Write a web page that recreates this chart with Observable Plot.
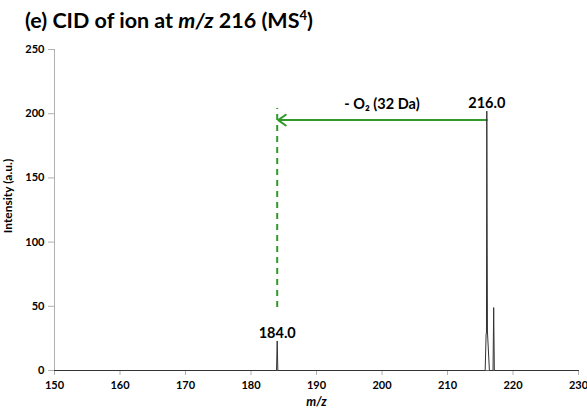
<!DOCTYPE html>
<html>
<head>
<meta charset="utf-8">
<script src="https://cdn.jsdelivr.net/npm/d3@7"></script>
<script src="https://cdn.jsdelivr.net/npm/@observablehq/plot@0.6"></script>
<style>
  body { margin: 0; background: #fff; font-family: Lato, "Open Sans", sans-serif; }
  #title { height: 36px; box-sizing: border-box; padding-left: 25px; padding-top: 9px; font-size: 21.5px; font-weight: bold; line-height: 22px; color: #000; white-space: nowrap; }
  #title sup { font-size: 13px; line-height: 0; }
  svg { display: block; }
</style>
</head>
<body>
<div id="title">(e) CID of ion at <i>m/z</i> 216 (MS<sup>4</sup>)</div>
<div id="chart"></div>
<script>
// spectrum trace (m/z, intensity)
const mz        = [150, 183.9, 184.0, 184.1, 215.75, 215.9, 215.95, 216.0, 216.1, 216.4, 216.95, 217.05, 217.15, 230];
const intensity = [0,   0,     23,    0,     0,      29,    29,     202,   30,    0,     0,      49,     0,      0];

// peak labels
const peakMz     = [184, 216];
const peakHeight = [23, 202];
const peakText   = ["184.0", "216.0"];

// neutral loss annotation
const lossFrom = 216, lossTo = 184, lossY = 195;
const lossDashBottom = 49, lossDashTop = 204;
const lossText = "- O\u2082 (32 Da)";
const lossTextX = 200, lossTextY = 207;

// axes
const xTicks = [150, 160, 170, 180, 190, 200, 210, 220, 230];
const yTicks = [0, 50, 100, 150, 200, 250];
const xLabel = "m/z";
const yLabel = "Intensity (a.u.)";

const spectrum = mz.map((m, i) => ({mz: m, y: intensity[i]}));
const peaks = peakMz.map((m, i) => ({mz: m, y: peakHeight[i], t: peakText[i]}));
const green = "#2f9a2a";
const font = "Lato, 'Open Sans', sans-serif";

const plot = Plot.plot({
  width: 587,
  height: 374,
  marginLeft: 54,
  marginRight: 9,
  marginTop: 13,
  marginBottom: 40,
  style: {fontFamily: font, background: "white", overflow: "visible"},
  x: {domain: [150, 230]},
  y: {domain: [0, 250]},
  marks: [
    Plot.ruleX([150], {y1: 0, y2: 250, stroke: "#b0b0b0"}),
    Plot.axisY({ticks: yTicks, tickSize: 6, tickPadding: 4, stroke: "#b0b0b0", fill: "black", fontWeight: "bold", fontSize: 11, label: null}),
    Plot.axisX({ticks: xTicks, tickSize: 5, tickPadding: 6, stroke: "#b0b0b0", fill: "black", fontWeight: "bold", fontSize: 11, label: null}),
    Plot.ruleY([0], {stroke: "#666"}),
    Plot.ruleX([lossTo], {y1: lossDashBottom, y2: lossDashTop, stroke: green, strokeWidth: 2, strokeDasharray: "6,5"}),
    Plot.arrow([{a: 1}], {x1: lossFrom, x2: lossTo + 0.15, y1: lossY, y2: lossY, stroke: green, strokeWidth: 2, headLength: 7, headAngle: 70}),
    Plot.line(spectrum, {x: "mz", y: "y", stroke: "#333", strokeWidth: 1}),
    Plot.text(peaks, {x: "mz", y: "y", text: "t", dy: -3, lineAnchor: "bottom", fontWeight: "bold", fontSize: 14.5, fill: "black"}),
    Plot.text([lossText], {x: lossTextX, y: lossTextY, text: d => d, fontWeight: "bold", fontSize: 14.5, fill: "black"}),
    Plot.text([xLabel], {frameAnchor: "bottom", dy: 35, text: d => d, fontStyle: "italic", fontWeight: "bold", fontSize: 12.5, fill: "black"}),
    Plot.text([yLabel], {frameAnchor: "left", textAnchor: "middle", dx: -46, dy: -14, rotate: -90, text: d => d, fontWeight: "bold", fontSize: 12, fill: "black"})
  ]
});
document.getElementById("chart").appendChild(plot);
</script>
</body>
</html>
